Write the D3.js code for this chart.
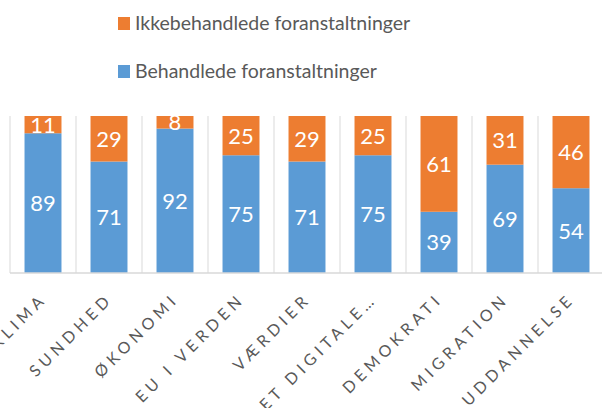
<!DOCTYPE html>
<html>
<head>
<meta charset="utf-8">
<script src="https://cdn.jsdelivr.net/npm/d3@7"></script>
<style>
  body { margin: 0; background: #fff; }
  svg { display: block; }
</style>
</head>
<body>
<div id="chart"></div>
<script>
// Data
const categories = ["KLIMA", "SUNDHED", "ØKONOMI", "EU I VERDEN", "VÆRDIER", "DET DIGITALE…", "DEMOKRATI", "MIGRATION", "UDDANNELSE"];
const behandlede = [89, 71, 92, 75, 71, 75, 39, 69, 54];
const ikkeBehandlede = [11, 29, 8, 25, 29, 25, 61, 31, 46];
const seriesNames = ["Ikkebehandlede foranstaltninger", "Behandlede foranstaltninger"];

const width = 602, height = 408;
const margin = { top: 116, bottom: 135, left: 10, right: -2 };
const blue = "#5b9bd5", orange = "#ed7d31";
const font = "Lato, 'Open Sans', sans-serif";

const svg = d3.select("#chart")
    .append("svg")
    .attr("width", width)
    .attr("height", height);

// Scales
const xScale = d3.scaleBand()
    .domain(categories)
    .range([margin.left, width - margin.right])
    .paddingInner(0.44)
    .paddingOuter(0.22);

const yScale = d3.scaleLinear()
    .domain([0, 100])
    .range([height - margin.bottom, margin.top]);

const step = xScale.step();

// Vertical separators between categories
const sepX = d3.range(categories.length + 1).map(i => margin.left + i * step);
svg.selectAll(".sep")
    .data(sepX)
    .enter().append("line")
    .attr("x1", d => d).attr("x2", d => d)
    .attr("y1", yScale(100)).attr("y2", yScale(0))
    .attr("stroke", "#d9d9d9")
    .attr("stroke-width", 1);

// Stacked bars
const rows = categories.map((c, i) => ({ cat: c, b: behandlede[i], ik: ikkeBehandlede[i] }));

svg.selectAll(".barB")
    .data(rows)
    .enter().append("rect")
    .attr("x", d => xScale(d.cat))
    .attr("y", d => yScale(d.b))
    .attr("width", xScale.bandwidth())
    .attr("height", d => yScale(0) - yScale(d.b))
    .attr("fill", blue);

svg.selectAll(".barI")
    .data(rows)
    .enter().append("rect")
    .attr("x", d => xScale(d.cat))
    .attr("y", d => yScale(d.b + d.ik))
    .attr("width", xScale.bandwidth())
    .attr("height", d => yScale(d.b) - yScale(d.b + d.ik))
    .attr("fill", orange);

// Data labels
svg.selectAll(".lblB")
    .data(rows)
    .enter().append("text")
    .attr("x", d => xScale(d.cat) + xScale.bandwidth() / 2)
    .attr("y", d => (yScale(0) + yScale(d.b)) / 2)
    .attr("dy", "0.36em")
    .attr("text-anchor", "middle")
    .attr("fill", "#fff")
    .style("font-family", font)
    .style("font-size", "22px")
    .text(d => d.b);

svg.selectAll(".lblI")
    .data(rows)
    .enter().append("text")
    .attr("x", d => xScale(d.cat) + xScale.bandwidth() / 2)
    .attr("y", d => (yScale(d.b) + yScale(d.b + d.ik)) / 2)
    .attr("dy", "0.36em")
    .attr("text-anchor", "middle")
    .attr("fill", "#fff")
    .style("font-family", font)
    .style("font-size", "22px")
    .text(d => d.ik);

// X axis line
svg.append("line")
    .attr("x1", margin.left).attr("x2", width)
    .attr("y1", yScale(0)).attr("y2", yScale(0))
    .attr("stroke", "#d9d9d9")
    .attr("stroke-width", 1.5);

// Rotated category labels, ending just below the axis near the band centre
const labelSize = 16, spacing = 4.5, capH = 0.72 * labelSize;
const c45 = Math.SQRT1_2;
svg.selectAll(".xlab")
    .data(categories)
    .enter().append("text")
    .attr("text-anchor", "start")
    .attr("fill", "#595959")
    .style("font-family", font)
    .style("font-size", labelSize + "px")
    .style("letter-spacing", spacing + "px")
    .text(d => d)
    .each(function(d) {
        const len = this.getComputedTextLength() - spacing;
        const tx0 = xScale(d) + xScale.bandwidth() / 2 - 6.5;
        const ty0 = yScale(0) + 22;
        const lx = len, ly = -capH;
        const tx = tx0 - c45 * (lx + ly);
        const ty = ty0 - c45 * (ly - lx);
        d3.select(this).attr("transform", `translate(${tx},${ty}) rotate(-45)`);
    });

// Legend
const legendColors = [orange, blue];
const legend = svg.selectAll(".legend")
    .data(seriesNames)
    .enter().append("g")
    .attr("transform", (d, i) => `translate(118,${17 + i * 48})`);

legend.append("rect")
    .attr("width", 12)
    .attr("height", 13)
    .attr("fill", (d, i) => legendColors[i]);

legend.append("text")
    .attr("x", 17)
    .attr("y", 13)
    .attr("fill", "#595959")
    .style("font-family", font)
    .style("font-size", "19.5px")
    .text(d => d);
</script>
</body>
</html>
